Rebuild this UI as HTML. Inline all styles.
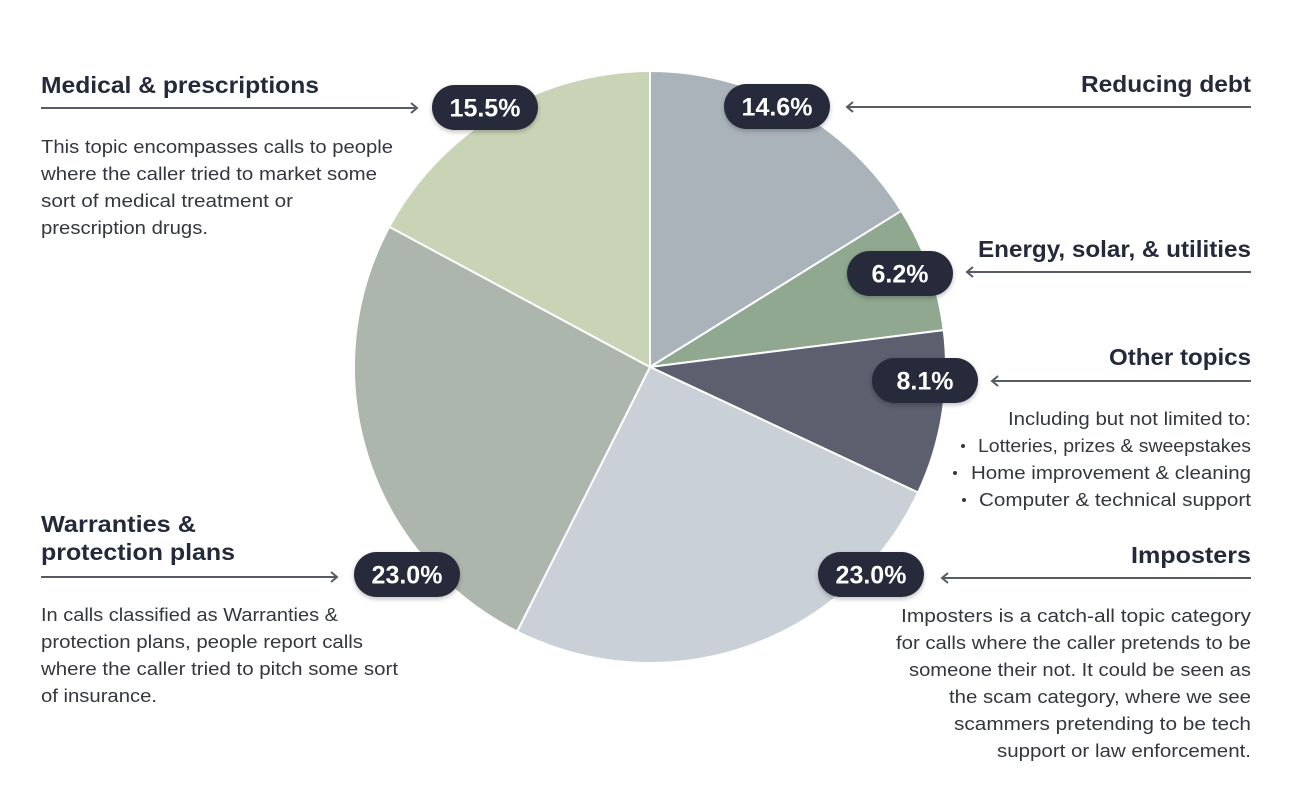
<!DOCTYPE html>
<html>
<head>
<meta charset="utf-8">
<style>
  html, body { margin: 0; padding: 0; background: #ffffff; }
  body { width: 1300px; height: 790px; overflow: hidden; }
  svg { display: block; }
  .title { font-family: "Liberation Sans", sans-serif; font-weight: bold; font-size: 23px; fill: #252a3a; }
  .body { font-family: "Liberation Sans", sans-serif; font-size: 18px; fill: #34373f; }
  .pill { font-family: "Liberation Sans", sans-serif; font-weight: bold; font-size: 25px; fill: #ffffff; }
  .arrow { stroke: #575b64; stroke-width: 2; fill: none; }
</style>
</head>
<body>
<svg width="1300" height="790" viewBox="0 0 1300 790" xmlns="http://www.w3.org/2000/svg">
  <defs>
    <filter id="sh" x="-20%" y="-30%" width="140%" height="170%">
      <feDropShadow dx="0" dy="2" stdDeviation="2.5" flood-color="#000" flood-opacity="0.25"/>
    </filter>
  </defs>

  <!-- Pie -->
  <g stroke="#ffffff" stroke-width="2" stroke-linejoin="round">
    <path d="M650,367 L650,71 A296,296 0 0 1 901.4,210.8 Z" fill="#aab3ba"/>
    <path d="M650,367 L901.4,210.8 A296,296 0 0 1 943.7,330.1 Z" fill="#8fa88f"/>
    <path d="M650,367 L943.7,330.1 A296,296 0 0 1 918.1,492.5 Z" fill="#5b5f6e"/>
    <path d="M650,367 L918.1,492.5 A296,296 0 0 1 517.1,631.5 Z" fill="#c9d0d8"/>
    <path d="M650,367 L517.1,631.5 A296,296 0 0 1 389.3,226.8 Z" fill="#acb6ad"/>
    <path d="M650,367 L389.3,226.8 A296,296 0 0 1 650,71 Z" fill="#c9d3b5"/>
  </g>

  <!-- Arrows -->
  <g class="arrow">
    <line x1="41" y1="108" x2="417" y2="108"/>
    <polyline points="411,103 417,108 411,113"/>
    <line x1="847" y1="107" x2="1251" y2="107"/>
    <polyline points="853,102 847,107 853,112"/>
    <line x1="967" y1="272" x2="1251" y2="272"/>
    <polyline points="973,267 967,272 973,277"/>
    <line x1="992" y1="381" x2="1251" y2="381"/>
    <polyline points="998,376 992,381 998,386"/>
    <line x1="942" y1="578" x2="1251" y2="578"/>
    <polyline points="948,573 942,578 948,583"/>
    <line x1="41" y1="577" x2="337" y2="577"/>
    <polyline points="331,572 337,577 331,582"/>
  </g>

  <!-- Pills -->
  <g filter="url(#sh)" fill="#262b3b">
    <rect x="432" y="85" width="106" height="45" rx="22.5"/>
    <rect x="724" y="84" width="106" height="45" rx="22.5"/>
    <rect x="847" y="251" width="106" height="45" rx="22.5"/>
    <rect x="872" y="358" width="106" height="45" rx="22.5"/>
    <rect x="818" y="552" width="106" height="45" rx="22.5"/>
    <rect x="354" y="552" width="106" height="45" rx="22.5"/>
  </g>
  <g class="pill" text-anchor="middle">
    <text x="485" y="116.5">15.5%</text>
    <text x="777" y="115.5">14.6%</text>
    <text x="900" y="282.5">6.2%</text>
    <text x="925" y="389.5">8.1%</text>
    <text x="871" y="583.5">23.0%</text>
    <text x="407" y="583.5">23.0%</text>
  </g>

  <!-- Left: Medical -->
  <text class="title" x="41" y="93" textLength="278" lengthAdjust="spacingAndGlyphs">Medical &amp; prescriptions</text>
  <g class="body">
    <text x="41" y="153" textLength="352" lengthAdjust="spacingAndGlyphs">This topic encompasses calls to people</text>
    <text x="41" y="180" textLength="336" lengthAdjust="spacingAndGlyphs">where the caller tried to market some</text>
    <text x="41" y="207" textLength="252" lengthAdjust="spacingAndGlyphs">sort of medical treatment or</text>
    <text x="41" y="234" textLength="167" lengthAdjust="spacingAndGlyphs">prescription drugs.</text>
  </g>

  <!-- Left: Warranties -->
  <text class="title" x="41" y="532" textLength="155" lengthAdjust="spacingAndGlyphs">Warranties &amp;</text>
  <text class="title" x="41" y="560" textLength="194" lengthAdjust="spacingAndGlyphs">protection plans</text>
  <g class="body">
    <text x="41" y="621" textLength="297" lengthAdjust="spacingAndGlyphs">In calls classified as Warranties &amp;</text>
    <text x="41" y="648" textLength="322" lengthAdjust="spacingAndGlyphs">protection plans, people report calls</text>
    <text x="41" y="675" textLength="357" lengthAdjust="spacingAndGlyphs">where the caller tried to pitch some sort</text>
    <text x="41" y="702" textLength="116" lengthAdjust="spacingAndGlyphs">of insurance.</text>
  </g>

  <!-- Right side -->
  <g class="title" text-anchor="end">
    <text x="1251" y="92" textLength="170" lengthAdjust="spacingAndGlyphs">Reducing debt</text>
    <text x="1251" y="257" textLength="273" lengthAdjust="spacingAndGlyphs">Energy, solar, &amp; utilities</text>
    <text x="1251" y="365" textLength="142" lengthAdjust="spacingAndGlyphs">Other topics</text>
    <text x="1251" y="563" textLength="120" lengthAdjust="spacingAndGlyphs">Imposters</text>
  </g>

  <g class="body" text-anchor="end">
    <text x="1251" y="425" textLength="243" lengthAdjust="spacingAndGlyphs">Including but not limited to:</text>
    <text x="1251" y="452" textLength="273" lengthAdjust="spacingAndGlyphs">Lotteries, prizes &amp; sweepstakes</text>
    <text x="1251" y="479" textLength="280" lengthAdjust="spacingAndGlyphs">Home improvement &amp; cleaning</text>
    <text x="1251" y="506" textLength="272" lengthAdjust="spacingAndGlyphs">Computer &amp; technical support</text>

    <text x="1251" y="622" textLength="350" lengthAdjust="spacingAndGlyphs">Imposters is a catch-all topic category</text>
    <text x="1251" y="649" textLength="355" lengthAdjust="spacingAndGlyphs">for calls where the caller pretends to be</text>
    <text x="1251" y="676" textLength="342" lengthAdjust="spacingAndGlyphs">someone their not. It could be seen as</text>
    <text x="1251" y="703" textLength="302" lengthAdjust="spacingAndGlyphs">the scam category, where we see</text>
    <text x="1251" y="730" textLength="297" lengthAdjust="spacingAndGlyphs">scammers pretending to be tech</text>
    <text x="1251" y="757" textLength="254" lengthAdjust="spacingAndGlyphs">support or law enforcement.</text>
  </g>
  <g fill="#34373f">
    <circle cx="963" cy="446" r="2"/>
    <circle cx="955" cy="473" r="2"/>
    <circle cx="964" cy="500" r="2"/>
  </g>
</svg>
</body>
</html>
